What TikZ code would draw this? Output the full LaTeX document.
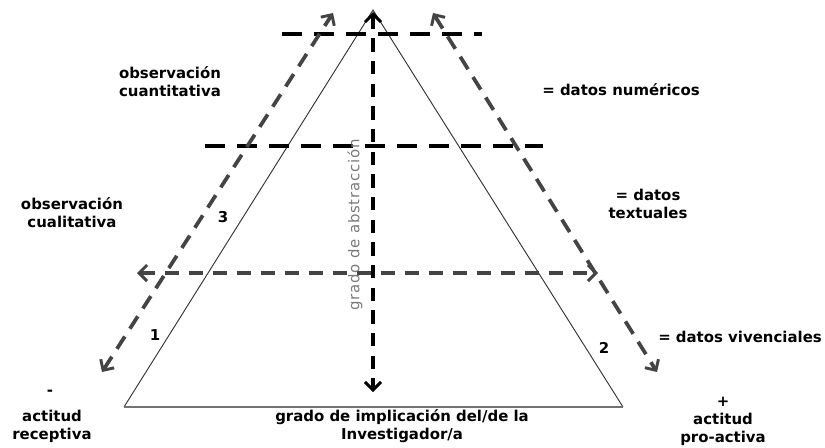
\documentclass[tikz,border=0pt]{standalone}
\usepackage{fontspec}
\setmainfont{DejaVu Sans}
\usetikzlibrary{arrows.meta}

\definecolor{flecha}{HTML}{444444}
\definecolor{rotulo}{HTML}{7A7A7A}

\tikzset{
  lado/.style={draw=black!80, line width=0.7pt},
  base/.style={draw=black!55, line width=1.6pt},
  corte/.style={black, line width=2.8pt, dash pattern=on 15pt off 9pt},
  eje/.style={flecha, line width=2.8pt, dash pattern=on 11pt off 7pt,
    {Straight Barb[length=6pt,width=12pt,line width=2.2pt]}-{Straight Barb[length=6pt,width=12pt,line width=2.2pt]}},
  texto/.style={font=\bfseries\fontsize{11.2}{13.5}\selectfont, align=center, inner sep=0pt},
}

\begin{document}
\begin{tikzpicture}[x=0.75pt,y=-0.75pt]

\useasboundingbox (0,0) rectangle (825,447);

\coordinate (A) at (373,10);
\coordinate (B) at (124,407);
\coordinate (C) at (623,407);

\draw[lado] (B) -- (A) -- (C);
\draw[base] (B) -- (C);

\coordinate (Ha) at (282,34);
\coordinate (Hb) at (482,34);
\coordinate (Ma) at (205,146);
\coordinate (Mb) at (543,146);

\draw[corte] (Ha) -- (Hb);
\draw[corte] (Ma) -- (Mb);

\coordinate (Vtop) at (373,12);
\coordinate (Vbot) at (373,392);
\draw[eje, black, dash pattern=on 10pt off 7pt] (Vtop) -- (Vbot);

\coordinate (Ia) at (137,273);
\coordinate (Ib) at (598,273);
\draw[eje] (Ia) -- (Ib);

\coordinate (La) at (102,372);
\coordinate (Lb) at (333,13);
\coordinate (Ra) at (433,13);
\coordinate (Rb) at (657,372);
\draw[eje] (La) -- (Lb);
\draw[eje] (Ra) -- (Rb);

\node[rotulo, rotate=90, inner sep=0pt, font=\addfontfeatures{LetterSpace=5}\fontsize{11.2}{12}\selectfont] (abstr) at (355,225) {grado de abstracción};

\node[texto] (cuanti) at (170,82) {observación\\cuantitativa};
\node[texto] (cuali) at (72,213) {observación\\cualitativa};
\node[texto] (tres) at (223,217) {3};
\node[texto] (uno) at (155,335) {1};
\node[texto] (dos) at (604,348) {2};

\node[texto] (numer) at (621,90) {= datos numéricos};
\node[texto] (textu) at (648,204) {= datos\\textuales};
\node[texto] (viven) at (740,337) {= datos vivenciales};

\node[texto] (menos) at (50,393) {-};
\node[texto] (recep) at (52,426) {actitud\\receptiva};
\node[texto] (impl) at (402,426) {grado de implicación del/de la\\Investigador/a};
\node[texto] (proac) at (723,421) {+\\actitud\\pro-activa};

\end{tikzpicture}
\end{document}
